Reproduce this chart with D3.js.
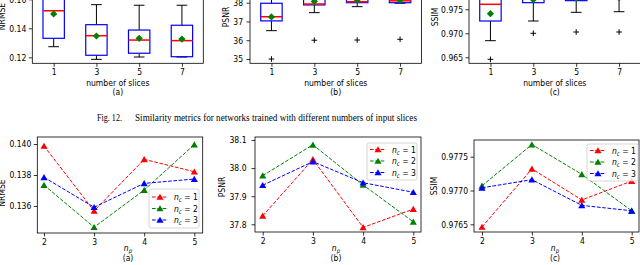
<!DOCTYPE html>
<html><head><meta charset="utf-8">
<script src="https://cdn.jsdelivr.net/npm/d3@7"></script>
<style>
body{margin:0;background:#fff}
svg text{font-family:"DejaVu Sans",sans-serif;fill:#000}
</style></head><body>
<svg id="c" width="640" height="265"></svg>
<script>
// ---------------- data ----------------
const sliceCats = ["1", "3", "5", "7"];
// box stats per category: [whislo, q1, median, q3, whishi, mean]
const nrmseBox = [
  [0.1273, 0.1331, 0.1521, 0.1640, 0.1760, 0.1499],
  [0.1186, 0.1214, 0.1349, 0.1425, 0.1563, 0.1347],
  [0.1202, 0.1228, 0.1319, 0.1388, 0.1559, 0.1331],
  [0.1202, 0.1204, 0.1315, 0.1421, 0.1559, 0.1326]
];
const nrmseFliers = [];
const psnrBox = [
  [36.51, 37.03, 37.25, 37.97, 38.90, 37.24],
  [37.47, 37.88, 37.93, 38.30, 38.80, 38.07],
  [37.79, 38.00, 38.05, 38.30, 38.70, 38.14],
  [37.97, 38.00, 38.10, 38.30, 38.60, 38.14]
];
const psnrFliers = [[1, 35.0], [2, 36.0], [3, 36.01], [4, 36.05]];
const ssimBox = [
  [0.96846, 0.97256, 0.97604, 0.97720, 0.98000, 0.97409],
  [0.97256, 0.97638, 0.97750, 0.97850, 0.98000, 0.97700],
  [0.97437, 0.97680, 0.97770, 0.97850, 0.98000, 0.97730],
  [0.97450, 0.97710, 0.97780, 0.97860, 0.98000, 0.97740]
];
const ssimFliers = [[1, 0.96458], [2, 0.97000], [3, 0.97027], [4, 0.97027]];

const npVals = [2, 3, 4, 5];
const ncLabels = ["1", "2", "3"];
const nrmseNc1 = [0.13987, 0.13568, 0.13901, 0.13821];
const nrmseNc2 = [0.13735, 0.13463, 0.13703, 0.13996];
const nrmseNc3 = [0.13785, 0.13592, 0.13746, 0.13774];
const psnrNc1 = [37.830, 38.031, 37.789, 37.854];
const psnrNc2 = [37.973, 38.083, 37.940, 37.809];
const psnrNc3 = [37.939, 38.023, 37.948, 37.914];
const ssimNc1 = [0.97646, 0.97732, 0.97686, 0.97714];
const ssimNc2 = [0.97707, 0.97768, 0.97724, 0.97670];
const ssimNc3 = [0.97704, 0.97716, 0.97678, 0.97670];

const nrmseTicks = [0.12, 0.14, 0.16];
const psnrBoxTicks = [35, 36, 37, 38];
const ssimBoxTicks = [0.965, 0.970, 0.975];
const nrmseLineTicks = [0.136, 0.138, 0.140];
const psnrLineTicks = [37.8, 37.9, 38.0, 38.1];
const ssimLineTicks = [0.9765, 0.9770, 0.9775];

// ---------------- drawing ----------------
const svg = d3.select("#c");
svg.append("rect").attr("width", 640).attr("height", 265).attr("fill", "#fff");
const FS = 9;
const seriesColors = ["#ff0000", "#008000", "#0000ff"];

function styleAxis(g, fs) {
  g.select(".domain").remove();
  g.selectAll(".tick line").attr("stroke", "#000").attr("stroke-width", 0.8);
  g.selectAll(".tick text").attr("font-size", fs).attr("font-family", "DejaVu Sans").attr("class", "cmp");
  g.attr("font-family", null).attr("font-size", null);
}

function addLabel(txt, x, y, rotate, fs) {
  const t = svg.append("text").attr("class", "cmp").attr("text-anchor", "middle")
    .attr("font-size", fs || FS).text(txt);
  if (rotate) t.attr("transform", `translate(${x},${y}) rotate(-90)`);
  else t.attr("x", x).attr("y", y);
  return t;
}

function boxPanel(o) {
  const x = d3.scaleLinear().domain([0.5, 4.5]).range([o.left, o.right]);
  const y = d3.scaleLinear().domain(o.domain).range(o.range);
  const g = svg.append("g");
  const hw = (x(1.25) - x(0.75)) / 2, cw = hw / 2;
  o.data.forEach((d, i) => {
    const cx = x(i + 1);
    const [lo, q1, med, q3, hi, mean] = d;
    g.append("line").attr("x1", cx).attr("x2", cx).attr("y1", y(q1)).attr("y2", y(lo)).attr("stroke", "#000").attr("stroke-width", 1);
    g.append("line").attr("x1", cx).attr("x2", cx).attr("y1", y(q3)).attr("y2", y(hi)).attr("stroke", "#000").attr("stroke-width", 1);
    g.append("line").attr("x1", cx - cw).attr("x2", cx + cw).attr("y1", y(lo)).attr("y2", y(lo)).attr("stroke", "#000").attr("stroke-width", 1);
    g.append("line").attr("x1", cx - cw).attr("x2", cx + cw).attr("y1", y(hi)).attr("y2", y(hi)).attr("stroke", "#000").attr("stroke-width", 1);
    g.append("rect").attr("x", cx - hw).attr("width", 2 * hw).attr("y", y(q3)).attr("height", y(q1) - y(q3))
      .attr("fill", "none").attr("stroke", "#0000ff").attr("stroke-width", 1.2);
    g.append("line").attr("x1", cx - hw).attr("x2", cx + hw).attr("y1", y(med)).attr("y2", y(med)).attr("stroke", "#ff0000").attr("stroke-width", 1.5);
    g.append("path").attr("d", d3.symbol(d3.symbolSquare, 26)())
      .attr("transform", `translate(${cx},${y(mean)}) rotate(45)`).attr("fill", "#008000");
  });
  o.fliers.forEach(f => {
    const fx = x(f[0]), fy = y(f[1]);
    g.append("path").attr("d", `M${fx - 2.8},${fy}H${fx + 2.8}M${fx},${fy - 2.8}V${fy + 2.8}`)
      .attr("fill", "none").attr("stroke", "#000").attr("stroke-width", 1);
  });
  g.append("rect").attr("x", o.left).attr("y", o.top).attr("width", o.right - o.left).attr("height", o.bottom - o.top)
    .attr("fill", "none").attr("stroke", "#000").attr("stroke-width", 0.8);
  const ay = g.append("g").attr("transform", `translate(${o.left},0)`)
    .call(d3.axisLeft(y).tickValues(o.ticks).tickFormat(o.fmt).tickSize(3.5).tickPadding(o.pad || 2.5));
  styleAxis(ay, FS);
  const ax = g.append("g").attr("transform", `translate(0,${o.bottom})`)
    .call(d3.axisBottom(x).tickValues([1, 2, 3, 4]).tickFormat(i => sliceCats[i - 1]).tickSize(3.5).tickPadding(2));
  styleAxis(ax, FS);
  addLabel(o.ylabel, o.ylx, o.yly, true);
  const cxm = (o.left + o.right) / 2;
  addLabel("number of slices", cxm, 86);
  addLabel(o.cap, cxm, 94.5);
}

boxPanel({left: 32.3, right: 203.3, top: -30, bottom: 63.3, domain: [0.12, 0.14], range: [57.3, 28.3],
  ticks: nrmseTicks, fmt: d3.format(".2f"), data: nrmseBox, fliers: nrmseFliers, ylabel: "NRMSE", ylx: 4.5, yly: 16.5, cap: "(a)"});
boxPanel({left: 250, right: 421.5, top: -30, bottom: 63.3, domain: [35, 38], range: [59, 2.7],
  ticks: psnrBoxTicks, fmt: d3.format("d"), data: psnrBox, fliers: psnrFliers, ylabel: "PSNR", ylx: 229, yly: 17, cap: "(b)", pad: 3.5});
boxPanel({left: 469, right: 640.5, top: -30, bottom: 63.3, domain: [0.965, 0.975], range: [57.3, 9.3],
  ticks: ssimBoxTicks, fmt: d3.format(".3f"), data: ssimBox, fliers: ssimFliers, ylabel: "SSIM", ylx: 438, yly: 17, cap: "(c)"});

// caption
const cap = svg.append("text").attr("y", 120.5).attr("font-size", 10.5)
  .style("font-family", "'Liberation Serif', serif");
cap.append("tspan").attr("x", 97).attr("textLength", 25).attr("lengthAdjust", "spacingAndGlyphs").text("Fig. 12.");
cap.append("tspan").attr("x", 135).attr("textLength", 282).attr("lengthAdjust", "spacingAndGlyphs")
  .text("Similarity metrics for networks trained with different numbers of input slices");

function mathLabel(parent, x, y, base, sub, rest, anchor, fs) {
  const t = parent.append("text").attr("x", x).attr("y", y).attr("font-size", fs).attr("text-anchor", anchor);
  t.append("tspan").attr("font-style", "italic").text(base);
  t.append("tspan").attr("font-style", "italic").attr("font-size", fs * 0.7).attr("dy", fs * 0.22).text(sub);
  if (rest) t.append("tspan").attr("dy", -fs * 0.22).text(rest);
  return t;
}

function linePanel(o) {
  const x = d3.scaleLinear().domain([2, 5]).range([o.x2, o.x5]);
  const y = d3.scaleLinear().domain(o.yd).range(o.yr);
  const g = svg.append("g");
  const line = d3.line().x((d, i) => x(npVals[i])).y(d => y(d));
  o.series.forEach((s, k) => {
    g.append("path").attr("d", line(s)).attr("fill", "none").attr("stroke", seriesColors[k])
      .attr("stroke-width", 1).attr("stroke-dasharray", "3.7,1.6");
    s.forEach((v, i) => {
      g.append("path").attr("d", d3.symbol(d3.symbolTriangle, 22)())
        .attr("transform", `translate(${x(npVals[i])},${y(v) + 0.8})`).attr("fill", seriesColors[k]);
    });
  });
  g.append("rect").attr("x", o.left).attr("y", o.top).attr("width", o.right - o.left).attr("height", o.bottom - o.top)
    .attr("fill", "none").attr("stroke", "#000").attr("stroke-width", 0.8);
  const ay = g.append("g").attr("transform", `translate(${o.left},0)`)
    .call(d3.axisLeft(y).tickValues(o.ticks).tickFormat(o.fmt).tickSize(3.5).tickPadding(o.pad || 2.5));
  styleAxis(ay, FS);
  const ax = g.append("g").attr("transform", `translate(0,${o.bottom})`)
    .call(d3.axisBottom(x).tickValues(npVals).tickFormat(d3.format("d")).tickSize(3.5).tickPadding(2));
  styleAxis(ax, FS);
  addLabel(o.ylabel, o.ylx, o.yly, true);
  mathLabel(svg, o.capx, 251, "n", "p", null, "middle", FS).attr("class", "cmp");
  addLabel(o.cap, o.capx, 261);
  const L = o.leg;
  const lg = svg.append("g");
  lg.append("rect").attr("x", L.x).attr("y", L.y).attr("width", L.w).attr("height", L.h).attr("rx", 2)
    .attr("fill", "#fff").attr("fill-opacity", 0.8).attr("stroke", "#ccc").attr("stroke-width", 0.8);
  ncLabels.forEach((lab, k) => {
    const yy = L.y + L.row0 + k * L.dy;
    lg.append("line").attr("x1", L.x + 3).attr("x2", L.x + 19).attr("y1", yy).attr("y2", yy)
      .attr("stroke", seriesColors[k]).attr("stroke-width", 1).attr("stroke-dasharray", "3.7,1.6");
    lg.append("path").attr("d", d3.symbol(d3.symbolTriangle, 22)())
      .attr("transform", `translate(${L.x + 11},${yy + 0.8})`).attr("fill", seriesColors[k]);
    mathLabel(lg, L.x + 25, yy + 3.2, "n", "c", " = " + lab, "start", FS).attr("class", "cmp");
  });
}

linePanel({left: 37.3, right: 202.7, top: 137, bottom: 233, x2: 44, x5: 194.3,
  yd: [0.136, 0.140], yr: [206, 144], ticks: nrmseLineTicks, fmt: d3.format(".3f"),
  series: [nrmseNc1, nrmseNc2, nrmseNc3], ylabel: "NRMSE", ylx: 4.5, yly: 193, capx: 128, cap: "(a)",
  leg: {x: 149, y: 189, w: 50, h: 39, row0: 8, dy: 11.5}});
linePanel({left: 255, right: 421, top: 137, bottom: 232, x2: 262.7, x5: 413.3,
  yd: [37.8, 38.1], yr: [224.3, 140], ticks: psnrLineTicks, fmt: d3.format(".1f"),
  series: [psnrNc1, psnrNc2, psnrNc3], ylabel: "PSNR", ylx: 225, yly: 187, capx: 336, cap: "(b)", pad: 5,
  leg: {x: 367, y: 143, w: 50, h: 37, row0: 6.5, dy: 11.5}});
linePanel({left: 474, right: 639, top: 140, bottom: 232, x2: 482, x5: 631.7,
  yd: [0.9765, 0.9775], yr: [224.3, 156.7], ticks: ssimLineTicks, fmt: d3.format(".4f"),
  series: [ssimNc1, ssimNc2, ssimNc3], ylabel: "SSIM", ylx: 437, yly: 186, capx: 555, cap: "(c)",
  leg: {x: 587, y: 144, w: 51, h: 37, row0: 6.5, dy: 11.5}});

svg.selectAll("text.cmp").each(function () {
  const w = this.getComputedTextLength();
  if (w > 0) { this.setAttribute("textLength", (w * 0.85).toFixed(2)); this.setAttribute("lengthAdjust", "spacingAndGlyphs"); }
});
</script>
</body></html>
